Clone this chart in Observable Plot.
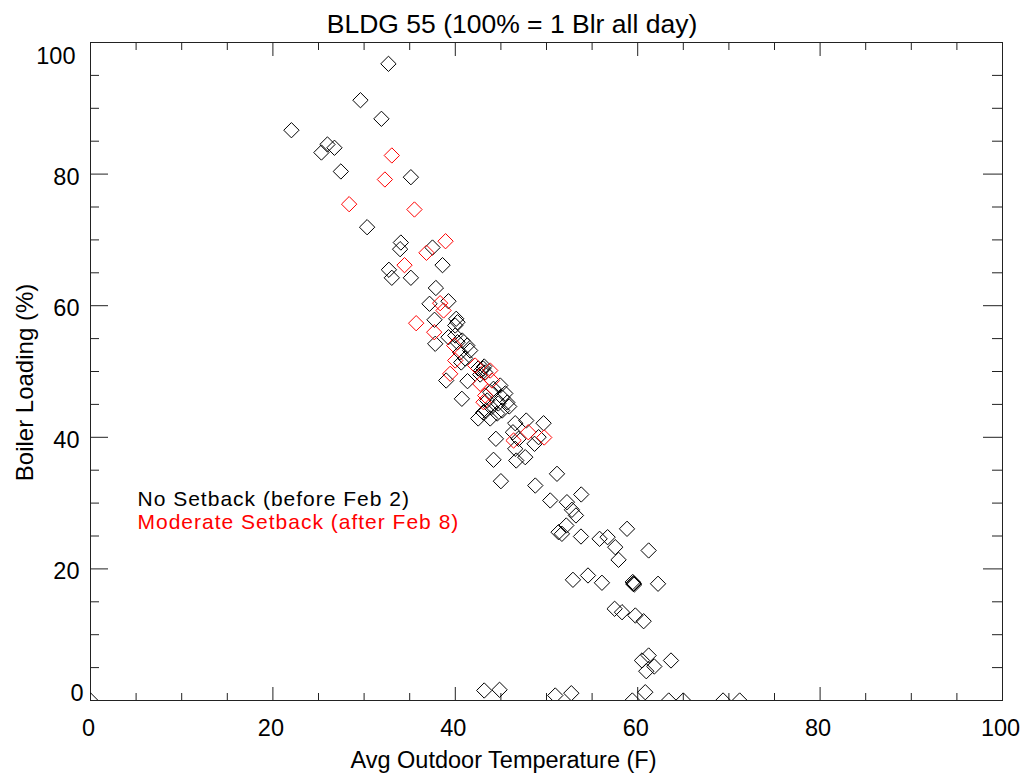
<!DOCTYPE html>
<html>
<head>
<meta charset="utf-8">
<script src="https://cdn.jsdelivr.net/npm/d3@7"></script>
<script src="https://cdn.jsdelivr.net/npm/@observablehq/plot@0.6"></script>
<style>
  html, body { margin: 0; padding: 0; background: #fff; }
</style>
</head>
<body>
<div id="chart"></div>
<script>
// ---- Data ----
const titleText = "BLDG 55 (100% = 1 Blr all day)";
const xLabel = "Avg Outdoor Temperature (F)";
const yLabel = "Boiler Loading (%)";
const seriesNames = ["No Setback (before Feb 2)", "Moderate Setback (after Feb 8)"];

// No Setback (black)
const noSetbackTemp = [
  32.67, 29.60, 31.90, 22.03, 25.98, 26.75, 25.32, 35.13, 27.45, 30.33,
  34.03, 33.95, 37.50, 38.60, 32.72, 33.04, 35.13, 37.87, 37.17, 39.25,
  37.72, 40.10, 40.24, 39.99, 37.80, 39.25, 39.99, 40.24, 40.76, 41.31,
  40.54, 41.09, 41.63, 40.65, 39.00, 41.34, 40.72, 42.51, 42.84, 43.06,
  43.28, 42.73, 43.17, 44.19, 44.93, 43.83, 43.50, 43.94, 44.71, 45.14,
  45.48, 45.70, 45.91, 43.39, 43.83, 44.60, 45.14, 42.51, 43.06, 44.45,
  46.32, 46.57, 47.78, 49.68, 46.93, 48.69, 49.13, 46.57, 44.19, 46.68,
  47.67, 45.00, 48.77, 51.15, 50.41, 52.24, 52.79, 53.23, 53.81, 52.17,
  51.32, 51.69, 53.78, 55.82, 56.70, 57.54, 57.90, 58.83, 61.20, 52.90,
  54.55, 56.08, 59.55, 59.46, 59.63, 59.52, 62.23, 57.47, 58.28, 59.74,
  60.65, 61.20, 60.47, 61.82, 60.94, 63.65, 43.17, 44.85, 50.96, 52.72,
  60.83, 59.41, 63.40, 65.00, 69.36, 71.18, 0.0
];
const noSetbackLoad = [
  96.76, 91.23, 88.40, 86.67, 84.50, 84.00, 83.28, 79.53, 80.40, 71.93,
  69.60, 68.59, 68.84, 66.16, 65.46, 64.24, 64.24, 62.69, 60.29, 60.68,
  57.86, 58.01, 57.49, 56.99, 54.21, 55.21, 55.47, 54.45, 54.71, 53.95,
  52.89, 51.98, 53.19, 51.37, 48.63, 48.53, 45.85, 50.46, 50.15, 50.46,
  49.85, 49.54, 50.76, 47.37, 47.87, 46.85, 45.59, 44.53, 45.14, 46.05,
  46.66, 45.29, 44.68, 44.07, 42.86, 43.62, 44.07, 42.86, 43.77, 39.77,
  40.77, 42.14, 42.55, 42.14, 39.77, 39.01, 40.02, 38.25, 36.58, 36.47,
  36.98, 33.33, 32.67, 34.45, 30.40, 30.14, 28.98, 28.12, 31.31, 26.60,
  25.58, 25.33, 24.92, 24.57, 24.82, 23.30, 21.38, 26.09, 22.80, 18.34,
  19.00, 17.89, 17.83, 18.01, 17.63, 17.70, 17.74, 13.94, 13.42, 12.92,
  12.05, 6.84, 6.08, 5.17, 4.45, 6.08, 1.52, 1.63, 0.76, 1.11,
  1.26, 0.0, 0.0, 0.0, 0.0, 0.0, 0.0
];

// Moderate Setback (red)
const moderateTemp = [
  33.04, 32.28, 28.36, 35.52, 38.93, 36.84, 34.43, 35.71, 37.69, 38.34,
  38.71, 39.44, 39.99, 39.88, 42.18, 43.83, 42.73, 43.28, 44.02, 43.09,
  48.00, 49.75, 46.39
];
const moderateLoad = [
  82.83, 79.18, 75.43, 74.62, 69.80, 68.04, 66.16, 57.34, 55.97, 60.38,
  59.27, 49.65, 51.67, 53.95, 50.91, 50.15, 48.13, 46.35, 48.63, 45.33,
  40.77, 39.97, 39.51
];

// Axis ticks
const xMajorTicks = [0, 20, 40, 60, 80, 100];
const xMinorTicks = [5, 10, 15, 25, 30, 35, 45, 50, 55, 65, 70, 75, 85, 90, 95];
const yMajorTicks = [0, 20, 40, 60, 80, 100];
const yMinorTicks = [5, 10, 15, 25, 30, 35, 45, 50, 55, 65, 70, 75, 85, 90, 95];
const yMidLabels = [20, 40, 60, 80];

// ---- Build tables ----
const blackPts = noSetbackTemp.map((t, i) => ({temp: t, load: noSetbackLoad[i]}));
const redPts = moderateTemp.map((t, i) => ({temp: t, load: moderateLoad[i]}));

const W = 1029, H = 776;
const mL = 90, mR = 27, mT = 42, mB = 76;
const frameW = W - mL - mR;   // 912
const frameH = H - mT - mB;   // 658
const axisColor = "#222";
const font = "'Liberation Sans', Arial, Helvetica, sans-serif";

const chart = Plot.plot({
  width: W,
  height: H,
  marginLeft: mL,
  marginRight: mR,
  marginTop: mT,
  marginBottom: mB,
  style: {fontFamily: font, fontSize: "23.5px", color: "black", background: "white", overflow: "visible"},
  x: {domain: [0, 100], axis: null},
  y: {domain: [0, 100], axis: null},
  marks: [
    Plot.frame({stroke: axisColor, strokeWidth: 1}),
    // bottom ticks
    Plot.tickX(xMajorTicks, {x: d => d, insetTop: frameH - 13, stroke: axisColor}),
    Plot.tickX(xMinorTicks, {x: d => d, insetTop: frameH - 7, stroke: axisColor}),
    // top ticks
    Plot.tickX(xMajorTicks, {x: d => d, insetBottom: frameH - 14, stroke: axisColor}),
    Plot.tickX(xMinorTicks, {x: d => d, insetBottom: frameH - 8, stroke: axisColor}),
    // left ticks
    Plot.tickY(yMajorTicks, {y: d => d, insetRight: frameW - 18, stroke: axisColor}),
    Plot.tickY(yMinorTicks, {y: d => d, insetRight: frameW - 9, stroke: axisColor}),
    // right ticks
    Plot.tickY(yMajorTicks, {y: d => d, insetLeft: frameW - 19, stroke: axisColor}),
    Plot.tickY(yMinorTicks, {y: d => d, insetLeft: frameW - 10, stroke: axisColor}),
    // x tick labels
    Plot.text(xMajorTicks, {x: d => d, text: d => String(d), frameAnchor: "bottom", dy: 35, dx: -2,
      lineAnchor: "bottom", textAnchor: "middle", fill: "black", fontSize: 23.5}),
    // y tick labels
    Plot.text(yMidLabels, {y: d => d, text: d => String(d), frameAnchor: "left", dx: -11, dy: 10.5,
      lineAnchor: "bottom", textAnchor: "end", fill: "black", fontSize: 23.5}),
    Plot.text([0], {y: d => d, text: d => String(d), frameAnchor: "left", dx: -7, dy: 0,
      lineAnchor: "bottom", textAnchor: "end", fill: "black", fontSize: 23.5}),
    Plot.text([100], {y: d => d, text: d => String(d), frameAnchor: "left", dx: -15, dy: 21,
      lineAnchor: "bottom", textAnchor: "end", fill: "black", fontSize: 23.5}),
    // data
    Plot.dot(blackPts, {x: "temp", y: "load", symbol: "diamond2", r: 6.9, stroke: "black",
      fill: "none", strokeWidth: 1, clip: true}),
    Plot.dot(redPts, {x: "temp", y: "load", symbol: "diamond2", r: 6.9, stroke: "#ff0000",
      fill: "none", strokeWidth: 1, clip: true}),
    // legend
    Plot.text([seriesNames[0]], {text: d => d, frameAnchor: "top-left", dx: 47, dy: 463,
      lineAnchor: "bottom", textAnchor: "start", fill: "black", fontSize: 21,
      style: "letter-spacing: 1px"}),
    Plot.text([seriesNames[1]], {text: d => d, frameAnchor: "top-left", dx: 47, dy: 486.5,
      lineAnchor: "bottom", textAnchor: "start", fill: "#ff0000", fontSize: 21}),
    // title
    Plot.text([titleText], {text: d => d, frameAnchor: "top", dx: 511.5 - 546, dy: -10,
      lineAnchor: "bottom", textAnchor: "middle", fill: "black", fontSize: 26.5}),
    // axis titles
    Plot.text([xLabel], {text: d => d, frameAnchor: "bottom", dx: 503 - 546, dy: 67,
      lineAnchor: "bottom", textAnchor: "middle", fill: "black", fontSize: 23.5}),
    Plot.text([yLabel], {text: d => d, frameAnchor: "left", dx: 32 - 90, dy: 382 - 371, rotate: -90,
      lineAnchor: "bottom", textAnchor: "middle", fill: "black", fontSize: 24})
  ]
});
// legend letter spacing (to match the reference text widths)
chart.querySelectorAll("text").forEach(t => {
  if (t.textContent === seriesNames[0] || t.textContent === seriesNames[1]) {
    t.setAttribute("letter-spacing", "1");
  }
});
document.getElementById("chart").appendChild(chart);
</script>
</body>
</html>
